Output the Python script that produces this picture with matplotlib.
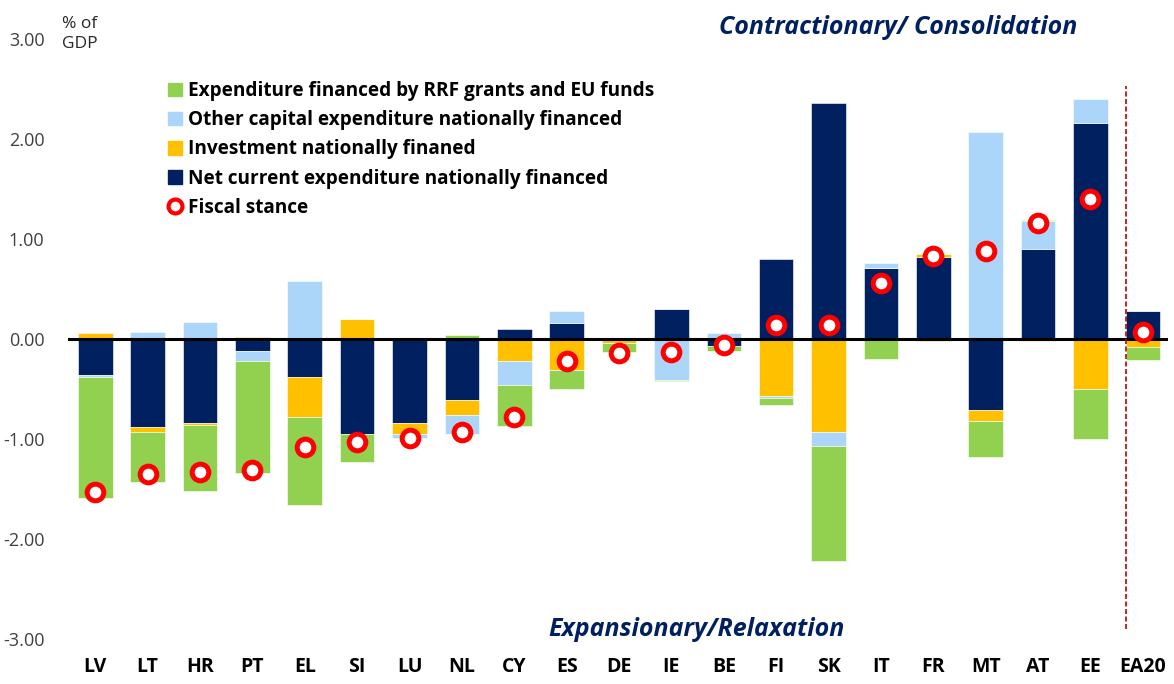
import numpy as np
import matplotlib
matplotlib.use("Agg")
import matplotlib.pyplot as plt
from matplotlib.lines import Line2D
from matplotlib.patches import Patch

plt.rcParams['font.family'] = ['Open Sans', 'DejaVu Sans']

countries = ["LV", "LT", "HR", "PT", "EL", "SI", "LU", "NL", "CY", "ES", "DE",
             "IE", "BE", "FI", "SK", "IT", "FR", "MT", "AT", "EE", "EA20"]
net_current = [-0.36, -0.88, -0.84, -0.12, -0.38, -0.95, -0.84, -0.61, 0.10, 0.16, 0.00,
               0.30, -0.07, 0.80, 2.36, 0.71, 0.82, -0.71, 0.90, 2.16, 0.28]
investment = [0.06, -0.05, -0.02, 0.02, -0.40, 0.20, -0.11, -0.15, -0.22, -0.31, -0.04,
              0.00, 0.00, -0.57, -0.93, 0.00, 0.03, -0.11, -0.02, -0.50, -0.08]
other_cap = [-0.02, 0.07, 0.17, -0.10, 0.58, 0.00, -0.04, -0.19, -0.24, 0.12, 0.00,
             -0.41, 0.06, -0.02, -0.14, 0.05, 0.00, 2.07, 0.28, 0.24, 0.00]
rrf = [-1.21, -0.50, -0.66, -1.12, -0.88, -0.28, 0.00, 0.04, -0.41, -0.19, -0.09,
       -0.01, -0.05, -0.07, -1.15, -0.20, -0.02, -0.36, 0.01, -0.50, -0.13]
fiscal = [-1.53, -1.35, -1.33, -1.31, -1.08, -1.03, -0.99, -0.93, -0.78, -0.22, -0.14,
          -0.13, -0.06, 0.14, 0.14, 0.56, 0.83, 0.88, 1.16, 1.40, 0.07]

navy = "#002060"
yellow = "#FFC000"
lblue = "#ABD6FA"
green = "#92D050"

fig = plt.figure(figsize=(11.74, 6.84), dpi=100)
ax = fig.add_axes([68/1174, 45/684, 1100/1174, 600/684])

x = np.arange(len(countries))
w = 0.66
pos = np.zeros(len(x))
neg = np.zeros(len(x))
# stacking order as in the excel chart: navy, yellow, light blue, green
for vals, col in [(net_current, navy), (investment, yellow), (other_cap, lblue), (rrf, green)]:
    v = np.array(vals)
    bottom = np.where(v >= 0, pos, neg)
    ax.bar(x, v, w, bottom=bottom, color=col, edgecolor="white", linewidth=0.4, zorder=2)
    pos = pos + np.where(v >= 0, v, 0)
    neg = neg + np.where(v < 0, v, 0)

ax.axhline(0, color="black", lw=2.2, zorder=3)
ax.plot(x, fiscal, 'o', ms=12, mfc="white", mec="#FF0000", mew=3.6, zorder=4)
ax.plot([19.67, 19.67], [-2.9, 2.53], color="#C00000", lw=1.2, ls=(0, (3, 1.5)), zorder=5)

ax.set_xlim(-0.52, 20.48)
ax.set_ylim(-3, 3)
ax.set_yticks(np.arange(-3, 3.1, 1))
ax.set_yticklabels([f"{t:.2f}" for t in np.arange(-3, 3.1, 1)], fontsize=13, color="#404040")
ax.set_xticks(x)
ax.set_xticklabels(countries, fontsize=14, fontweight="bold")
ax.tick_params(axis="y", length=0, pad=17)
ax.tick_params(axis="x", length=0, pad=13)
for s in ax.spines.values():
    s.set_visible(False)

fig.text(62/1174, 1-34/684, "% of\nGDP", fontsize=12.5, color="#262626", va="center", ha="left",
         linespacing=1.3)
fig.text(898/1174, 1-28/684, "Contractionary/ Consolidation", fontsize=18, fontweight="bold",
         fontstyle="italic", color=navy, ha="center", va="center")
fig.text(697/1174, 1-630/684, "Expansionary/Relaxation", fontsize=18, fontweight="bold",
         fontstyle="italic", color=navy, ha="center", va="center")

handles = [Patch(color=green), Patch(color=lblue), Patch(color=yellow), Patch(color=navy),
           Line2D([], [], ls="", marker="o", ms=10, mfc="white", mec="#FF0000", mew=3)]
labels = ["Expenditure financed by RRF grants and EU funds",
          "Other capital expenditure nationally financed",
          "Investment nationally finaned",
          "Net current expenditure nationally financed",
          "Fiscal stance"]
leg = fig.legend(handles, labels, loc="upper left", bbox_to_anchor=(151/1174, 1-64/684),
                 frameon=False, handlelength=0.72, handleheight=0.72, handletextpad=0.35,
                 labelspacing=0.48, prop={"size": 13.7, "weight": "bold"})

fig.savefig("out.png", dpi=100)
